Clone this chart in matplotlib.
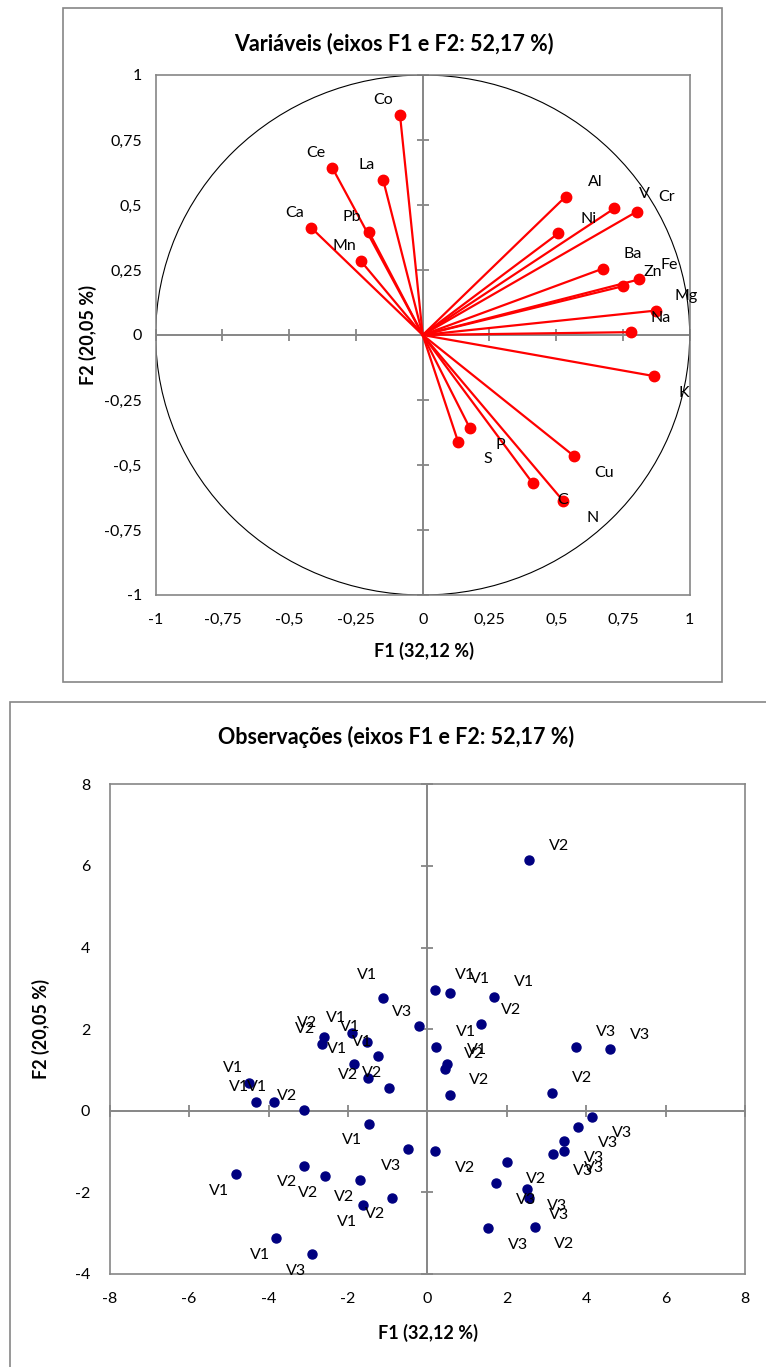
import matplotlib
matplotlib.use("Agg")
import matplotlib.pyplot as plt
from matplotlib.patches import Circle, Rectangle

plt.rcParams['font.family'] = ['Lato', 'DejaVu Sans']

# --- variables (correlation circle) ---
var_names = ["Co", "Ce", "La", "Ca", "Pb", "Mn", "Al", "V", "Cr", "Ni", "Ba",
             "Zn", "Fe", "Mg", "Na", "K", "Cu", "N", "C", "P", "S"]
var_f1 = [-0.085, -0.339, -0.148, -0.418, -0.202, -0.232, 0.535, 0.718, 0.801,
          0.508, 0.674, 0.751, 0.811, 0.874, 0.780, 0.866, 0.566, 0.526, 0.412,
          0.177, 0.133]
var_f2 = [0.846, 0.644, 0.596, 0.413, 0.397, 0.285, 0.532, 0.487, 0.474, 0.391,
          0.255, 0.188, 0.214, 0.094, 0.011, -0.158, -0.465, -0.638, -0.570,
          -0.359, -0.412]

circ_ticks = [-1, -0.75, -0.5, -0.25, 0, 0.25, 0.5, 0.75, 1]
circ_tick_labels = ["-1", "-0,75", "-0,5", "-0,25", "0", "0,25", "0,5", "0,75", "1"]

# --- observations ---
obs_labels = ["V1", "V3", "V2", "V2", "V1", "V1", "V1", "V1", "V2", "V2", "V1", "V1",
              "V1", "V2",
              "V1", "V3", "V1", "V2", "V2", "V2", "V2", "V1", "V1", "V3",
              "V1", "V1", "V1", "V2", "V1", "V1", "V2", "V2", "V3", "V3", "V2", "V2",
              "V3", "V3", "V3", "V3", "V3", "V2", "V2", "V3", "V3", "V3", "V3", "V2"]
obs_f1 = [-1.108, -0.209, -2.602, -2.652, -1.889, -1.526, -1.234, -1.846, -1.486,
          -0.965, -4.484, -4.315, -3.861, -3.113,
          -1.476, -0.494, -4.819, -3.106, -2.584, -1.688, -0.897, -1.612, -3.804,
          -2.897,
          0.194, 0.564, 1.680, 1.353, 0.212, 0.504, 0.438, 0.564, 3.746, 4.610,
          3.149, 2.562,
          4.156, 3.788, 3.451, 3.451, 3.174, 0.194, 2.000, 1.738, 2.519, 2.562,
          1.529, 2.705]
obs_f2 = [2.755, 2.069, 1.799, 1.635, 1.904, 1.691, 1.333, 1.145, 0.794, 0.564,
          0.686, 0.213, 0.213, 0.010,
          -0.319, -0.946, -1.551, -1.346, -1.598, -1.703, -2.130, -2.316, -3.118,
          -3.510,
          2.958, 2.877, 2.794, 2.118, 1.569, 1.137, 1.022, 0.385, 1.569, 1.505,
          0.441, 6.135,
          -0.147, -0.392, -0.743, -0.988, -1.069, -0.988, -1.265, -1.779, -1.926,
          -2.147, -2.882, -2.858]

obs_xticks = [-8, -6, -4, -2, 0, 2, 4, 6, 8]
obs_yticks = [-4, -2, 0, 2, 4, 6, 8]

# label nudges (points) where the original placement differs
obs_nudge = {0: (0, 6.5), 8: (-2.5, -8)}

GRAY = "#868686"
TICK_FS = 11.5
LABEL_FS = 11.5


def label_offset(x, y):
    dx = -12 if x < 0 else 21.5
    dy = 10.5 if y >= 0 else -12
    return dx, dy


def style_axes(ax, xticks, yticks, xlabels, ylabels, xpad, ypad):
    for s in ax.spines.values():
        s.set_color(GRAY)
        s.set_linewidth(1.2)
    ax.set_xticks(xticks)
    ax.set_yticks(yticks)
    ax.set_xticklabels(xlabels)
    ax.set_yticklabels(ylabels)
    ax.tick_params(length=0, labelsize=TICK_FS, colors="black")
    ax.tick_params(axis="x", pad=xpad)
    ax.tick_params(axis="y", pad=ypad)
    ax.axhline(0, color=GRAY, lw=1.4, zorder=1)
    ax.axvline(0, color=GRAY, lw=1.4, zorder=1)
    tx = [t for t in xticks if t != 0]
    ty = [t for t in yticks if t != 0]
    ax.plot(tx, [0] * len(tx), ls="none", marker="|", ms=8.5, mew=1.3,
            color=GRAY, zorder=1, clip_on=False)
    ax.plot([0] * len(ty), ty, ls="none", marker="_", ms=8.5, mew=1.3,
            color=GRAY, zorder=1, clip_on=False)


fig = plt.figure(figsize=(7.66, 13.67), dpi=100)

# chart area frames
fig.add_artist(Rectangle((63 / 766, 1 - 682 / 1367), 659 / 766, 674 / 1367,
                         transform=fig.transFigure, fill=False, ec=GRAY, lw=1.2))
fig.add_artist(Rectangle((10 / 766, -0.2), 1.2, 0.2 + 1 - 702 / 1367,
                         transform=fig.transFigure, fill=False, ec=GRAY, lw=1.2))

# --- top: correlation circle ---
ax1 = fig.add_axes([155.7 / 766, 1 - 595 / 1367, 534 / 766, 520 / 1367])
ax1.set_xlim(-1, 1)
ax1.set_ylim(-1, 1)
style_axes(ax1, circ_ticks, circ_ticks, circ_tick_labels, circ_tick_labels, 13, 10)
ax1.add_patch(Circle((0, 0), 1, fill=False, ec="black", lw=0.8, zorder=2))
for name, x, y in zip(var_names, var_f1, var_f2):
    ax1.plot([0, x], [0, y], color="#FF0000", lw=1.6, zorder=3)
    ax1.plot(x, y, "o", color="#FF0000", ms=7.5, zorder=4)
    ax1.annotate(name, (x, y), xytext=label_offset(x, y), textcoords="offset points",
                 ha="center", va="center", fontsize=LABEL_FS, zorder=5)

fig.text(394 / 766, 1 - 44 / 1367, "Variáveis (eixos F1 e F2: 52,17 %)",
         ha="center", va="center", fontsize=15.5, fontweight="bold")
fig.text(424 / 766, 1 - 651 / 1367, "F1 (32,12 %)", ha="center", va="center",
         fontsize=13, fontweight="bold")
fig.text(88 / 766, 1 - 335 / 1367, "F2 (20,05 %)", ha="center", va="center",
         rotation=90, fontsize=13, fontweight="bold")

# --- bottom: observations ---
ax2 = fig.add_axes([109.7 / 766, 1 - 1273.9 / 1367, 635.2 / 766, 489.6 / 1367])
ax2.set_xlim(-8, 8)
ax2.set_ylim(-4, 8)
style_axes(ax2, obs_xticks, obs_yticks, [str(t) for t in obs_xticks],
           [str(t) for t in obs_yticks], 13, 14)
ax2.plot(obs_f1, obs_f2, "o", ls="none", color="#000080", ms=6.5, zorder=4)
for i, (lab, x, y) in enumerate(zip(obs_labels, obs_f1, obs_f2)):
    dx, dy = label_offset(x, y)
    nx, ny = obs_nudge.get(i, (0, 0))
    ax2.annotate(lab, (x, y), xytext=(dx + nx, dy + ny), textcoords="offset points",
                 ha="center", va="center", fontsize=LABEL_FS, zorder=5)

fig.text(396 / 766, 1 - 737 / 1367, "Observações (eixos F1 e F2: 52,17 %)",
         ha="center", va="center", fontsize=15.5, fontweight="bold")
fig.text(428 / 766, 1 - 1333 / 1367, "F1 (32,12 %)", ha="center", va="center",
         fontsize=13, fontweight="bold")
fig.text(41 / 766, 1 - 1029 / 1367, "F2 (20,05 %)", ha="center", va="center",
         rotation=90, fontsize=13, fontweight="bold")

fig.savefig("out.png", dpi=100)
